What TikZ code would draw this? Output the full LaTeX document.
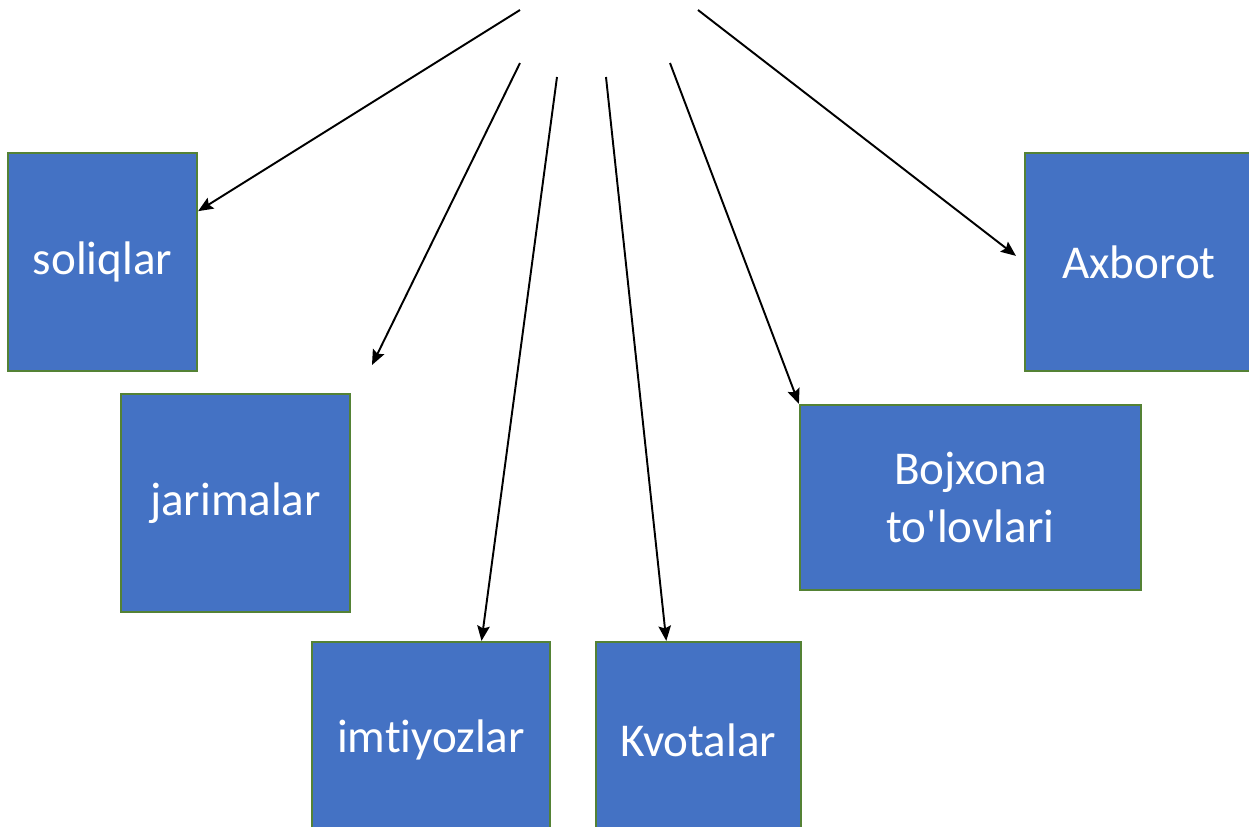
\documentclass[tikz,border=0pt]{standalone}
\usepackage{fontspec}
\newfontfamily\boxfont{Carlito}[Ligatures={NoCommon}]
\usepackage{xcolor}
\usetikzlibrary{arrows.meta,positioning}
\definecolor{boxblue}{HTML}{4472C4}
\definecolor{boxgreen}{HTML}{548235}
\tikzset{termbox/.style={draw=boxgreen,fill=boxblue,line width=1.3pt,text=white,
    font=\boxfont\fontsize{26.8}{33}\selectfont,align=center,inner sep=0pt}}

\begin{document}
\begin{tikzpicture}[x=0.02cm,y=-0.02cm,>={Stealth[length=0.3cm,width=0.25cm,inset=0.05cm]}]
    \useasboundingbox (0,0) rectangle (1249,826);
    \clip (0,0) rectangle (1249,826);

    \node[termbox,minimum width=3.78cm,minimum height=4.36cm] (soliqlar) at (102.5,262) {soliqlar};
    \node[termbox,minimum width=4.58cm,minimum height=4.36cm] (jarimalar) at (235.5,503) {jarimalar};
    \node[termbox,minimum width=4.76cm,minimum height=3.92cm] (imtiyozlar) at (431,740) {imtiyozlar};
    \node[termbox,minimum width=4.10cm,minimum height=3.92cm] (kvotalar) at (698.5,740) {Kvotalar};
    \node[termbox,minimum width=6.82cm,minimum height=3.70cm] (bojxona) at (970.5,497.5) {Bojxona\\to'lovlari};
    \node[termbox,minimum width=4.56cm,minimum height=4.36cm] (axborot) at (1139,262) {Axborot};

    \coordinate (s1) at (520,10);
    \coordinate (s2) at (520,63);
    \coordinate (s3) at (557,77);
    \coordinate (s4) at (606,77);
    \coordinate (s5) at (670,63);
    \coordinate (s6) at (698,10);
    \coordinate (jfree) at (372,365);

    \begin{scope}[line width=1.1pt]
      \draw[->] (s1) -- (soliqlar.28);
      \draw[->] (s2) -- (jfree);
      \draw[->] (s3) -- (imtiyozlar.63);
      \draw[->] (s4) -- (kvotalar.108);
      \draw[->] (s5) -- (bojxona.north west);
      \draw[->,shorten >=0.2cm] (s6) -- (axborot.west);
    \end{scope}
\end{tikzpicture}
\end{document}
